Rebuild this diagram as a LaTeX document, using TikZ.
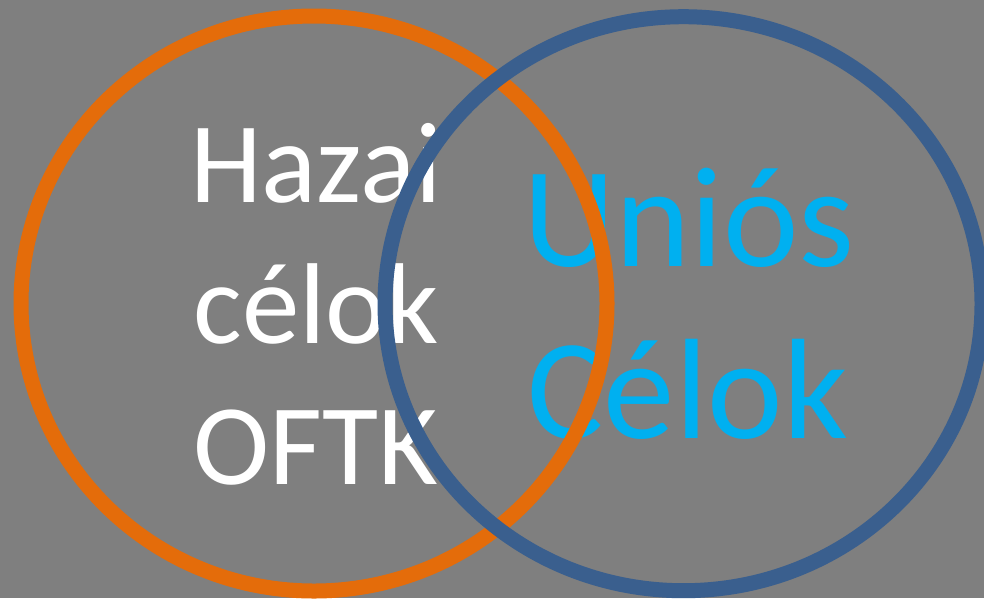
\documentclass[tikz,border=0pt]{standalone}
\usepackage{fontspec}
\setmainfont{Carlito}
\definecolor{bg}{HTML}{7F7F7F}
\definecolor{orangeC}{HTML}{E46C0A}
\definecolor{blueC}{HTML}{3A5F8E}
\definecolor{cyanC}{HTML}{00B0F0}
\begin{document}
\begin{tikzpicture}[x=1pt,y=-1pt,
  ring/.style={line width=15pt},
  hazai/.style={anchor=base,inner sep=0pt,text=white,font=\fontsize{115}{138}\selectfont},
  unios/.style={anchor=base,inner sep=0pt,text=cyanC,font=\fontsize{143}{172}\selectfont}]
\useasboundingbox (0,0) rectangle (984,598);
\fill[bg] (0,0) rectangle (984,598);
\node[unios] (u1) at (689,266) {Uniós};
\node[unios] (u2) at (688,438) {Célok};
\draw[ring,orangeC] (314,303.5) ellipse [x radius=293, y radius=287.5];
\node[hazai] (h1) at (316,202) {Hazai};
\node[hazai] (h2) at (316,343) {célok};
\node[hazai] (h3) at (316,484) {OFTK};
\draw[ring,blueC] (683.5,303.7) ellipse [x radius=298.5, y radius=287];
\end{tikzpicture}
\end{document}
